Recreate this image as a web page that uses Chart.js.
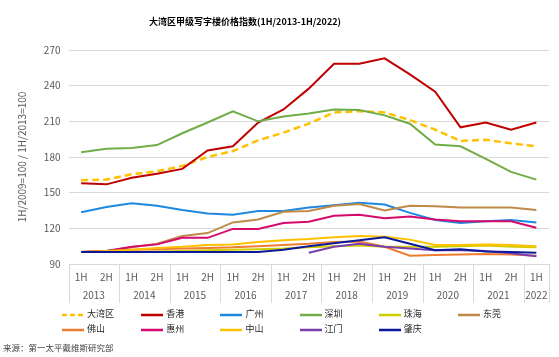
<!DOCTYPE html>
<html><head><meta charset="utf-8">
<script src="https://cdn.jsdelivr.net/npm/chart.js@4/dist/chart.umd.min.js"></script>
<style>
html,body{margin:0;padding:0;background:#fff;}
#wrap{position:relative;width:559px;height:357px;overflow:hidden;font-family:"Noto Sans CJK SC","Noto Sans",sans-serif;}
canvas{position:absolute;left:0;top:0;}
#title{position:absolute;top:15px;left:0;width:490px;text-align:center;font-size:9px;font-weight:bold;color:#000;}
.lg{position:absolute;font-size:9px;color:#262626;white-space:nowrap;line-height:12px;}
.lg svg{vertical-align:middle;margin-right:3px;}
#src{position:absolute;left:3px;top:341px;font-size:8.5px;color:#404040;}
</style></head>
<body><div id="wrap"><canvas id="c" width="559" height="357"></canvas>
<div id="title">大湾区甲级写字楼价格指数(1H/2013-1H/2022)</div>
<div id="src">来源：第一太平戴维斯研究部</div>
</div>
<script>
const halves = ['1H','2H','1H','2H','1H','2H','1H','2H','1H','2H','1H','2H','1H','2H','1H','2H','1H','2H','1H'];
const years = ['2013','2014','2015','2016','2017','2018','2019','2020','2021','2022'];
const yTicks = [90,120,150,180,210,240,270];
const seriesNames = ['大湾区','香港','广州','深圳','珠海','东莞','佛山','惠州','中山','江门','肇庆'];
const seriesColors = ['#FFC000','#C00000','#1F88E0','#70AD47','#CFCF00','#BF8A48','#ED7D31','#D6096E','#FFC000','#7A3DB0','#0A1A9A'];
const gba      = [160.5,161,165.5,168,172.5,180,185,194,200.5,208,217.5,218.5,217.5,211,203,193.5,194.5,191.5,189];
const hongkong = [158,157,162.5,166,170,185.5,189,209,220,237.5,258.5,258.5,263,249.5,235,205,209,203,209];
const guangzhou= [133.5,138,141,139,135.5,132.5,131.5,134.5,134.5,137.5,139.5,141.5,140,133,127,124.5,126,127,125];
const shenzhen = [184,187,187.5,190,200,209,218.5,210,214,216.5,220,219.5,215,208,190.5,189,178.5,167.5,161];
const zhuhai   = [100,100,100,100.5,101,101.5,102,102.5,103,104,105,105.5,104.5,104.5,104.5,105,105.5,104.5,104];
const dongguan = [100,101,104,107,113.5,116,125,127.5,134,134.5,139,140.5,135,139,138.5,137.5,137.5,137.5,135.5];
const foshan   = [100,101,102,102.5,103,103.5,104,105,106,107,108.5,109,104.5,97,97.5,98,98.5,98,97];
const huizhou  = [100,101,104.5,106.5,112,112,119.5,119.5,124.5,125.5,130.5,131.5,128.5,130,127.5,126,126,126,120.5];
const zhongshan= [100,101,102,103.5,104.5,106,106.5,108.5,110,111,112.5,113.5,113,110.5,106,106,106.5,106,105];
const jiangmen = [null,null,null,null,null,null,null,null,null,99.5,104.5,107,104.5,103,101.5,101.5,101,99,96.5];
const zhaoqing = [100,100,100,100,100,100,100,100,102,105,107.5,110,112.5,107,101.5,102.5,100.5,100,99.5];
const seriesData = [gba,hongkong,guangzhou,shenzhen,zhuhai,dongguan,foshan,huizhou,zhongshan,jiangmen,zhaoqing];

const FONT = '"Noto Sans CJK SC","Noto Sans",sans-serif';
const datasets = seriesNames.map((n,i)=>({
  label:n, data:seriesData[i], borderColor:seriesColors[i], backgroundColor:seriesColors[i],
  borderWidth: i===0?2.5:2, borderDash: i===0?[7,4]:[], pointRadius:0, tension:0, fill:false,
  spanGaps:false, order: 20-i
}));

const boxPlugin = {
  id:'box',
  afterDraw(chart){
    const ctx = chart.ctx, x = chart.scales.x, a = chart.chartArea;
    const w = x.getPixelForValue(1) - x.getPixelForValue(0);
    const top = a.bottom, bot = a.bottom + 39;
    ctx.save();
    ctx.strokeStyle = '#D9D9D9'; ctx.lineWidth = 1;
    const edges = [];
    for (let k=0;k<=halves.length;k+=2){ edges.push(x.getPixelForValue(0) - w/2 + k*w); }
    edges.push(x.getPixelForValue(halves.length-1) + w/2);
    ctx.beginPath();
    edges.forEach(e=>{ const xx=Math.round(e)+0.5; ctx.moveTo(xx,top); ctx.lineTo(xx,bot); });
    ctx.stroke();
    ctx.fillStyle = '#595959'; ctx.font = '10px '+FONT; ctx.textAlign='center'; ctx.textBaseline='middle';
    halves.forEach((h,i)=>ctx.fillText(h, x.getPixelForValue(i), top+13));
    years.forEach((y,k)=>{
      const i0 = 2*k, i1 = Math.min(2*k+1, halves.length-1);
      ctx.fillText(y, (x.getPixelForValue(i0)+x.getPixelForValue(i1))/2, top+31);
    });
    ctx.translate(22,(a.top+a.bottom)/2);
    ctx.rotate(-Math.PI/2);
    ctx.fillText('1H/2009=100 / 1H/2013=100',0,0);
    ctx.restore();
  }
};

new Chart(document.getElementById('c'),{
  type:'line',
  data:{labels:halves, datasets},
  options:{
    responsive:false, animation:false, devicePixelRatio:1,
    layout:{padding:{top:50,right:10,bottom:93,left:0}},
    plugins:{legend:{display:false},tooltip:{enabled:false},title:{display:false}},
    scales:{
      x:{type:'category', display:false, offset:true},
      y:{min:90,max:270,
        afterBuildTicks(s){ s.ticks = yTicks.map(v=>({value:v})); },
        afterFit(s){ s.width = 68.5; },
        border:{display:false},
        grid:{color:'#D9D9D9', drawTicks:false, lineWidth:1},
        ticks:{color:'#595959', font:{size:10,family:FONT}, padding:8}
      }
    }
  },
  plugins:[boxPlugin]
});

const wrap = document.getElementById('wrap');
seriesNames.forEach((n,i)=>{
  const col = i%6, row = Math.floor(i/6);
  const d = document.createElement('div');
  d.className='lg';
  d.style.left = (62 + col*79.2)+'px';
  d.style.top = (308 + row*15)+'px';
  const dash = i===0 ? 'stroke-dasharray="5,3"' : '';
  d.innerHTML = '<svg width="22" height="6"><line x1="0" y1="3" x2="22" y2="3" stroke="'+seriesColors[i]+'" stroke-width="2.5" '+dash+'/></svg>'+n;
  wrap.appendChild(d);
});
</script>
</body></html>
